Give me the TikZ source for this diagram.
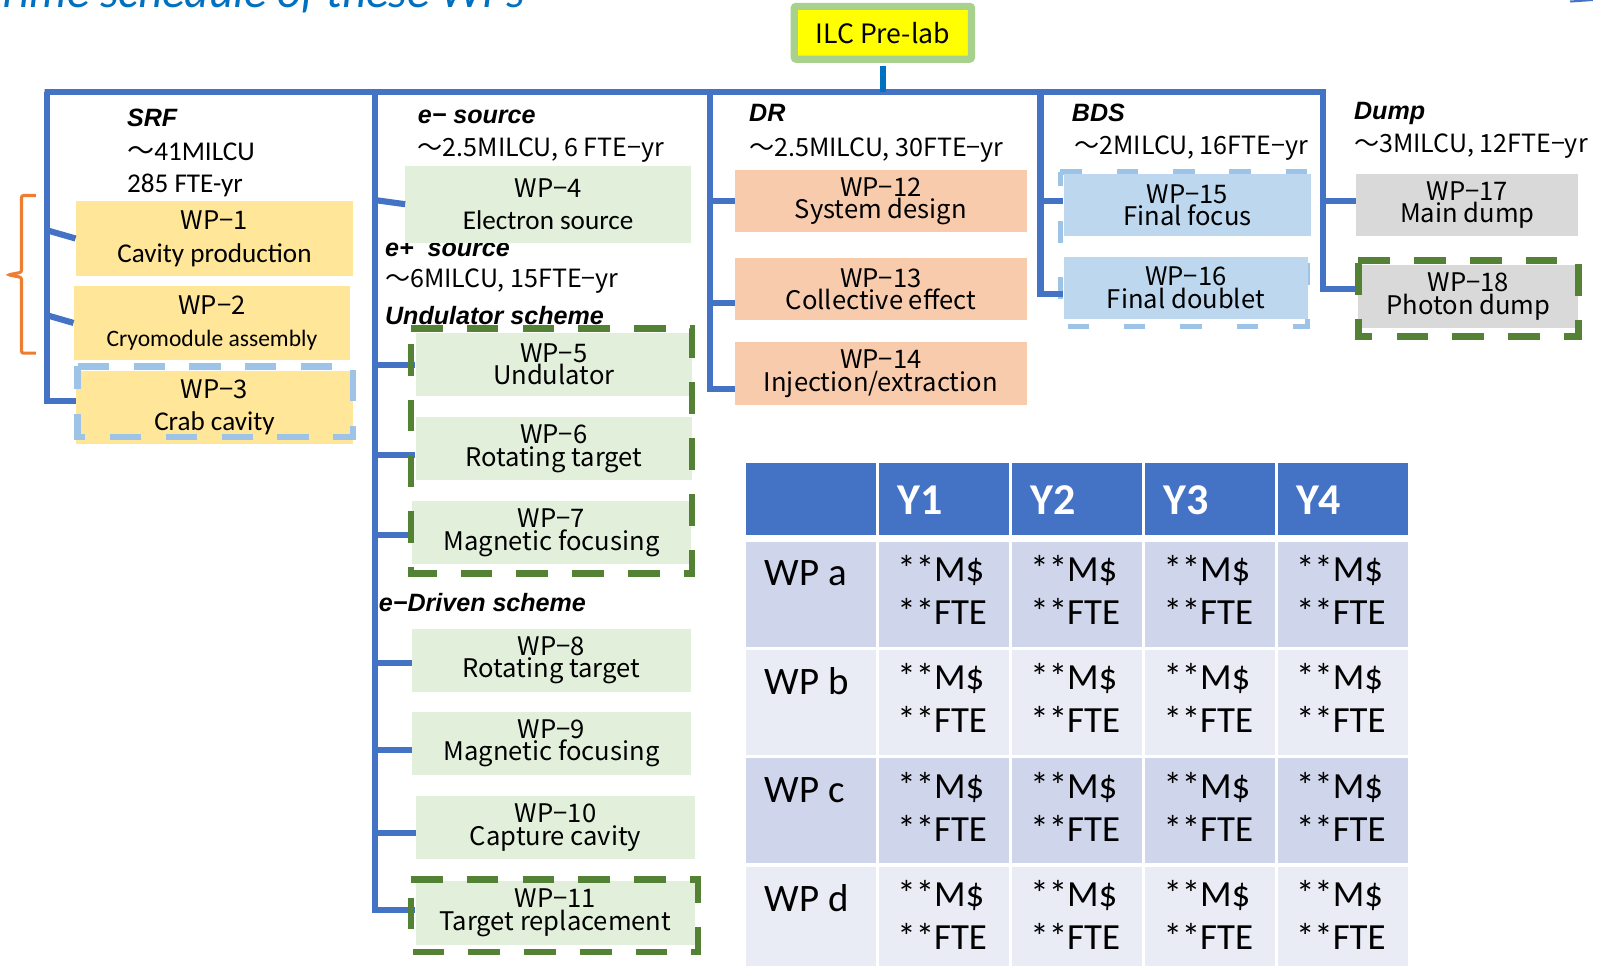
\documentclass[tikz,border=0pt]{standalone}
\usepackage{fontspec}
\setmainfont{Liberation Sans}
\newfontfamily\jp{Noto Sans CJK JP}
\newfontfamily\calfont{Carlito}
\definecolor{busblue}{HTML}{4472C4}
\definecolor{ilcblue}{HTML}{0070C0}
\definecolor{yellowbox}{HTML}{FFE699}
\definecolor{greenbox}{HTML}{E2EFDA}
\definecolor{orangebox}{HTML}{F8CBAD}
\definecolor{bluebox}{HTML}{BDD7EE}
\definecolor{graybox}{HTML}{D9D9D9}
\definecolor{dashblue}{HTML}{9DC3E6}
\definecolor{dashgreen}{HTML}{548235}
\definecolor{brorange}{HTML}{ED7D31}
\definecolor{ilcgreen}{HTML}{A9D18E}
\definecolor{ilcyellow}{HTML}{FFFF00}
\definecolor{rowA}{HTML}{CFD5EA}
\definecolor{rowB}{HTML}{E9EBF5}
\definecolor{titleblue}{HTML}{0070C0}
\begin{document}
\begin{tikzpicture}[x=1pt,y=-1pt,
  bus/.style={draw=busblue, line width=6pt},
  wpbox/.style={rectangle, inner sep=0pt, align=center, font=\jp\fontsize{25}{22}\selectfont},
  srfbox/.style={wpbox, font=\jp\fontsize{25}{32}\selectfont},
  hd/.style={anchor=west, inner sep=0pt, font=\bfseries\itshape\fontsize{24.5}{24.5}\selectfont},
  info/.style={anchor=west, inner sep=0pt, font=\jp\fontsize{24.5}{24.5}\selectfont},
  calinfo/.style={anchor=west, inner sep=0pt, font=\calfont\fontsize{26.5}{26.5}\selectfont},
  gdash/.style={draw=dashgreen, line width=6.5pt, dash pattern=on 31pt off 23.5pt},
  bdash/.style={draw=dashblue, line width=6.5pt, dash pattern=on 30.5pt off 24pt},
  bdashthin/.style={draw=dashblue, line width=5pt, dash pattern=on 21pt off 34pt},
  cell/.style={rectangle, inner sep=0pt, minimum width=127pt, anchor=north west},
  datatext/.style={inner sep=0pt, text width=91pt, align=left, font=\calfont\fontsize{36}{42}\selectfont},
  labeltext/.style={inner sep=0pt, anchor=west, font=\calfont\fontsize{38}{38}\selectfont},
  hdrtext/.style={inner sep=0pt, anchor=west, text=white, font=\calfont\bfseries\fontsize{43}{43}\selectfont}
]
\useasboundingbox (0,0) rectangle (1568,943);

% title (cut by the top edge)
\node[anchor=base west, inner sep=0pt, text=titleblue, font=\calfont\itshape\fontsize{46}{46}\selectfont] (title) at (-4,7) {Time schedule of these WPs};
\draw[busblue, line width=2pt] (1534,1.5) -- (1556,0);

% column headings and figures
\node[hd] (srfh) at (124,115.6) {SRF};
\node[calinfo] (srfa) at (124,148) {{\jp 〜}41MILCU};
\node[calinfo] (srfb) at (124,180.7) {285 FTE-yr};
\node[hd] (emh) at (408,114) {e− source};
\node[info] (ema) at (408,146.6) {〜2.5MILCU, 6 FTE−yr};
\node[hd] (eph) at (376,244) {e+\ \ source};
\node[info] (epa) at (376,275) {〜6MILCU, 15FTE−yr};
\node[hd] (undh) at (376,308.7) {Undulator scheme};
\node[hd] (edh) at (370,589) {e−Driven scheme};
\node[hd] (drh) at (731.7,110.7) {DR};
\node[info] (dra) at (731.7,146.5) {〜2.5MILCU, 30FTE−yr};
\node[hd] (bdsh) at (1047,110.7) {BDS};
\node[info] (bdsa) at (1049.5,145) {〜2MILCU, 16FTE−yr};
\node[hd] (dumph) at (1322.7,110.7) {Dump};
\node[info] (dumpa) at (1322.7,143) {〜3MILCU, 12FTE−yr};

% BDS dashed frame (beneath the boxes)
\draw[bdashthin] (1036,168) -- (1277,168) -- (1277,319) -- (1036,319) -- cycle;

% top node
\node[rectangle, draw=ilcgreen, line width=7pt, fill=ilcyellow, rounded corners=2pt,
      minimum width=173.3pt, minimum height=51.6pt, inner sep=0pt,
      font=\jp\fontsize{26}{26}\selectfont] (ilc) at (862.5,32) {ILC Pre-lab};

% work packages
\node[srfbox, fill=yellowbox, minimum width=271pt, minimum height=74pt] (wp1) at (209.5,233) {WP−1\\{\calfont\fontsize{26.5}{32}\selectfont Cavity production}};
\node[srfbox, fill=yellowbox, minimum width=270pt, minimum height=73pt] (wp2) at (207,315.5) {WP−2\\{\calfont\fontsize{23}{32}\selectfont Cryomodule assembly}};
\node[srfbox, fill=yellowbox, minimum width=271pt, minimum height=72pt] (wp3) at (209.5,398) {WP−3\\{\calfont\fontsize{26.5}{32}\selectfont Crab cavity}};
\node[srfbox, fill=greenbox, minimum width=279pt, minimum height=75pt] (wp4) at (535.5,199.5) {WP−4\\{\calfont\fontsize{26.5}{31}\selectfont Electron source}};
\node[wpbox, fill=greenbox, minimum width=270pt, minimum height=61pt] (wp5) at (541,356) {WP−5\\Undulator};
\node[wpbox, fill=greenbox, minimum width=270pt, minimum height=61pt] (wp6) at (541,438.3) {WP−6\\Rotating target};
\node[wpbox, fill=greenbox, minimum width=272.5pt, minimum height=61.5pt] (wp7) at (538.8,520.3) {WP−7\\Magnetic focusing};
\node[wpbox, fill=greenbox, minimum width=272.5pt, minimum height=61.5pt] (wp8) at (538.8,645.3) {WP−8\\Rotating target};
\node[wpbox, fill=greenbox, minimum width=272.5pt, minimum height=61.5pt] (wp9) at (538.8,726.3) {WP−9\\Magnetic focusing};
\node[wpbox, fill=greenbox, minimum width=272.5pt, minimum height=61.5pt] (wp10) at (542.8,808.3) {WP−10\\Capture cavity};
\node[wpbox, fill=greenbox, minimum width=273pt, minimum height=63pt] (wp11) at (542.5,892) {WP−11\\Target replacement};
\node[wpbox, fill=orangebox, minimum width=285pt, minimum height=61pt] (wp12) at (860.5,196.5) {WP−12\\System design};
\node[wpbox, fill=orangebox, minimum width=285pt, minimum height=61pt] (wp13) at (860.5,282.5) {WP−13\\Collective effect};
\node[wpbox, fill=orangebox, minimum width=285pt, minimum height=61pt] (wp14) at (860.5,365) {WP−14\\Injection/extraction};
\node[wpbox, fill=bluebox, minimum width=242pt, minimum height=61pt] (wp15) at (1160,200.5) {WP−15\\Final focus};
\node[wpbox, fill=bluebox, minimum width=239pt, minimum height=61pt] (wp16) at (1158.5,281.3) {WP−16\\Final doublet};
\node[wpbox, fill=graybox, minimum width=217pt, minimum height=61pt] (wp17) at (1433.5,200.5) {WP−17\\Main dump};
\node[wpbox, fill=graybox, minimum width=215pt, minimum height=61pt] (wp18) at (1434.5,289.5) {WP−18\\Photon dump};

% tree lines
\coordinate (busL) at (46,89.5);
\coordinate (busR) at (1292.5,89.5);
\coordinate (s1a) at (46,225);
\coordinate (s1b) at (46,308);
\coordinate (s1c) at (46,392);
\coordinate (s5a) at (1292.5,196);
\coordinate (s5b) at (1292.5,282);
\draw[bus] (s1c -| wp3.west) -- (s1c) -- (busL) -- ([xshift=-2.5pt]busL) -- (busR) -- (s5b) -- (s5b -| wp18.west);
\draw[bus] (s1a) -- (wp1.west);
\draw[bus] (s1b) -- (wp2.west);
\draw[bus] (s5a) -- (s5a -| wp17.west);

\coordinate (s2top) at (366,89.5);
\coordinate (s2a) at (366,195.4);
\coordinate (s2b) at (366,356.6);
\coordinate (s2c) at (366,444.6);
\coordinate (s2d) at (366,522.7);
\coordinate (s2e) at (366,648);
\coordinate (s2f) at (366,733);
\coordinate (s2g) at (366,814);
\coordinate (s2h) at (366,889);
\draw[bus] (s2top) -- (s2h) -- (s2h -| wp11.west);
\draw[bus] (s2a) -- (wp4.west);
\foreach \p/\w in {s2b/wp5, s2c/wp6, s2d/wp7, s2e/wp8, s2f/wp9, s2g/wp10}
  \draw[bus] (\p) -- (\p -| \w.west);

\coordinate (s3top) at (694,89.5);
\coordinate (s3a) at (694,196);
\coordinate (s3b) at (694,296);
\coordinate (s3c) at (694,380);
\draw[bus] (s3top) -- (s3c) -- (s3c -| wp14.west);
\draw[bus] (s3a) -- (s3a -| wp12.west);
\draw[bus] (s3b) -- (s3b -| wp13.west);

\coordinate (s4top) at (1016.5,89.5);
\coordinate (s4a) at (1016.5,196);
\coordinate (s4b) at (1016.5,287);
\draw[bus] (s4top) -- (s4b) -- (s4b -| wp16.west);
\draw[bus] (s4a) -- (s4a -| wp15.west);

\draw[draw=ilcblue, line width=6pt] ([yshift=-3.5pt]ilc.south) -- (ilc.south |- busL);

% dashed frames on top
\draw[bdash] (76,358) -- (345,358) -- (345,427) -- (76,427) -- cycle;
\draw[gdash] (401.5,321) -- (676,321) -- (676,560) -- (401.5,560) -- cycle;
\draw[gdash] (401.5,859) -- (682,859) -- (682,930) -- (401.5,930) -- cycle;
\draw[gdash] (1327,254.7) -- (1542,254.7) -- (1542,329) -- (1327,329) -- cycle;

% bracket
\draw[brorange, line width=3pt, rounded corners=2pt] (35,191) -- (21,191) -- (21,266) -- (8,268.5) -- (21,271) -- (21,345) -- (35,345);

% table
\foreach \c/\x in {0/729,1/858.5,2/988.5,3/1118.5,4/1248}
  \node[cell, fill=busblue, minimum height=70pt] (h\c) at (\x,452) {};
\foreach \c in {1,2,3,4}
  \node[hdrtext] (ht\c) at ([xshift=18pt,yshift=-1.5pt]h\c.west) {Y\c};
\foreach \r/\y/\col in {a/529/rowA, b/634.8/rowB, c/740.6/rowA, d/846.4/rowB} {
  \node[cell, fill=\col, minimum height=102.5pt] (\r0) at (729,\y) {};
  \node[labeltext] (l\r) at ([xshift=18pt,yshift=-31pt]\r0.north west) {WP \r};
  \foreach \c/\x in {1/858.5,2/988.5,3/1118.5,4/1248} {
    \node[cell, fill=\col, minimum height=102.5pt] (\r\c) at (\x,\y) {};
    \node[datatext] (t\r\c) at ([yshift=4pt]\r\c.center) {**M\$\\{**FTE}};
  }
}
\end{tikzpicture}
\end{document}
